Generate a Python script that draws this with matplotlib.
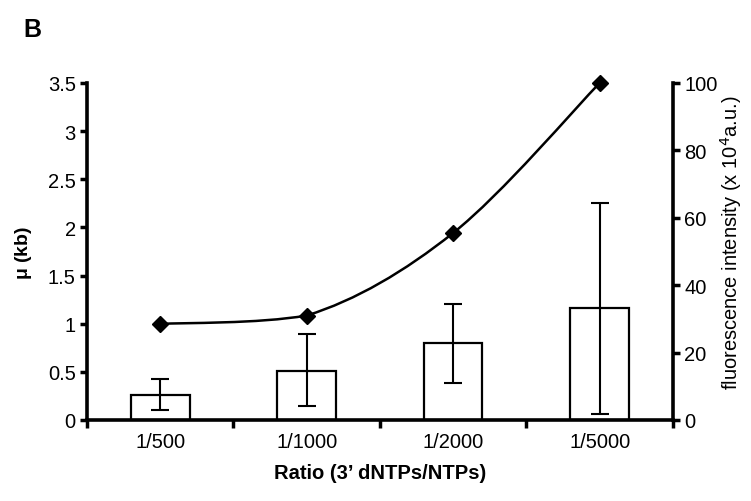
import matplotlib

matplotlib.use("Agg")
import matplotlib.pyplot as plt  # noqa: E402
import numpy as np  # noqa: E402
from matplotlib.path import Path  # noqa: E402
from matplotlib.patches import PathPatch  # noqa: E402

plt.rcParams["font.family"] = ["Liberation Sans", "DejaVu Sans"]

# Data
ratios = ["1/500", "1/1000", "1/2000", "1/5000"]
mu_kb = [0.26, 0.51, 0.80, 1.16]
mu_err_low = [0.16, 0.37, 0.42, 1.10]
mu_err_high = [0.17, 0.38, 0.40, 1.09]
fluorescence = [28.5, 31.0, 55.5, 100.0]


def _smooth_path(xs, ys):
    """Bezier through the points, like a spreadsheet 'smoothed line' (no overshoot)."""
    pts = np.column_stack([xs, ys]).astype(float)
    verts = [pts[0]]
    codes = [Path.MOVETO]
    n = len(pts)
    for i in range(n - 1):
        p0 = pts[max(i - 1, 0)]
        p1 = pts[i]
        p2 = pts[i + 1]
        p3 = pts[min(i + 2, n - 1)]
        c1 = p1 + (p2 - p0) / 6.0
        c2 = p2 - (p3 - p1) / 6.0
        lo, hi = min(p1[1], p2[1]), max(p1[1], p2[1])
        c1[1] = np.clip(c1[1], lo, hi)
        c2[1] = np.clip(c2[1], lo, hi)
        verts += [c1, c2, p2]
        codes += [Path.CURVE4] * 3
    return Path(verts, codes)


fig = plt.figure(figsize=(7.51, 5.02), dpi=100)
ax = fig.add_axes([0.1158, 0.1614, 0.7802, 0.6713])
x = np.arange(len(ratios))

ax.bar(x, mu_kb, width=0.40, color="white", edgecolor="black", linewidth=1.6, zorder=2)
ax.errorbar(x, mu_kb, yerr=[mu_err_low, mu_err_high], fmt="none", ecolor="black",
            elinewidth=1.5, capsize=6.5, capthick=1.5, zorder=3)

ax.set_xlim(-0.5, 3.5)
ax.set_ylim(0, 3.5)
ax.set_yticks(np.arange(0, 3.51, 0.5))
ax.set_yticklabels(["0", "0.5", "1", "1.5", "2", "2.5", "3", "3.5"])
ax.set_xticks(np.arange(-0.5, 3.6, 1.0))
ax.set_xticklabels([])
ax.set_xticks(x, minor=True)
ax.set_xticklabels(ratios, minor=True)
ax.tick_params(axis="x", which="major", direction="out", length=6, width=2.5)
ax.tick_params(axis="x", which="minor", length=0, pad=9, labelsize=14.5)
ax.tick_params(axis="y", direction="out", length=5, width=2.5, labelsize=14.5, pad=3)

for side in ("top", "right"):
    ax.spines[side].set_visible(False)
for side in ("left", "bottom"):
    ax.spines[side].set_linewidth(2.6)

ax.set_xlabel("Ratio (3\u2019 dNTPs/NTPs)", fontsize=14.5, fontweight="bold", labelpad=8)
ax.set_ylabel(r"$\mathregular{\mu}$ (kb)", fontsize=14, fontweight="bold", labelpad=10)

ax2 = ax.twinx()
ax2.set_ylim(0, 100)
ax2.set_yticks(np.arange(0, 101, 20))
ax2.tick_params(axis="y", direction="out", length=5, width=2.5, labelsize=14.5, pad=3)
for side in ("top", "left", "bottom"):
    ax2.spines[side].set_visible(False)
ax2.spines["right"].set_linewidth(2.6)
ax2.set_ylabel(r"fluorescence intensity (x 10$^{4}$a.u.)", fontsize=14.5, labelpad=0)
ax2.yaxis.set_label_coords(1.078, 0.53)

ax2.add_patch(PathPatch(_smooth_path(x, fluorescence), facecolor="none",
                        edgecolor="black", linewidth=1.8, zorder=4))
ax2.plot(x, fluorescence, linestyle="none", marker="D", markersize=8,
         color="black", zorder=5, clip_on=False)

fig.text(0.031, 0.94, "B", fontsize=18, fontweight="bold", va="center")

fig.savefig("out.png", dpi=100)
